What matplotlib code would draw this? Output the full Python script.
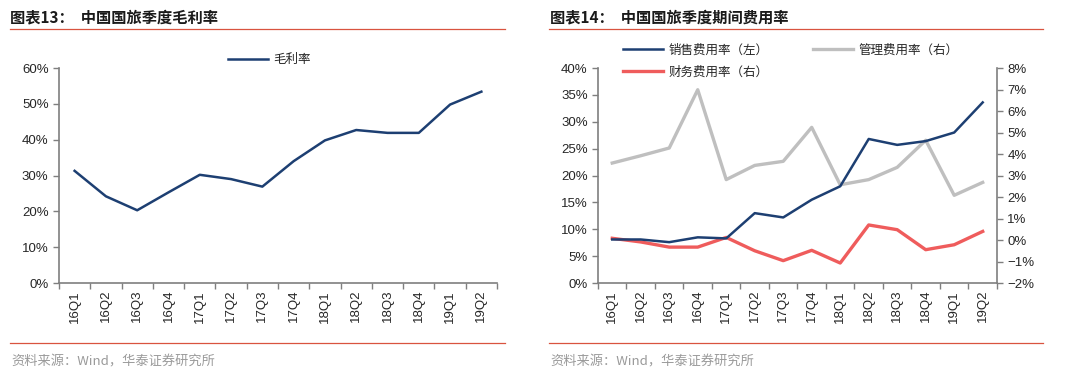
import matplotlib
matplotlib.use("Agg")
import matplotlib.pyplot as plt
from matplotlib.ticker import FixedLocator, PercentFormatter
from matplotlib.lines import Line2D
import numpy as np

plt.rcParams['font.family'] = ['Liberation Sans', 'Noto Sans CJK SC', 'DejaVu Sans']

quarters = ['16Q1', '16Q2', '16Q3', '16Q4', '17Q1', '17Q2', '17Q3', '17Q4',
            '18Q1', '18Q2', '18Q3', '18Q4', '19Q1', '19Q2']
gross_margin = [31.3, 24.2, 20.3, 25.3, 30.2, 29.0, 26.9, 34.0, 39.8, 42.7, 41.9, 41.9, 49.8, 53.4]
sales_rate = [8.1, 8.1, 7.6, 8.5, 8.3, 13.0, 12.2, 15.5, 18.0, 26.8, 25.7, 26.4, 28.0, 33.6]
admin_rate = [3.58, 3.92, 4.28, 6.99, 2.81, 3.47, 3.66, 5.24, 2.57, 2.81, 3.38, 4.64, 2.08, 2.68]
fin_rate = [0.08, -0.09, -0.33, -0.33, 0.12, -0.50, -0.96, -0.48, -1.07, 0.70, 0.48, -0.45, -0.22, 0.40]

NAVY = '#1d3f72'
GRAY = '#bfbfbf'
RED = '#ef5c5c'
AX = '#7f7f7f'
TXT = '#262626'
TITLE_FONT = ['Noto Sans CJK SC', 'DejaVu Sans']

fig = plt.figure(figsize=(10.8, 3.76), dpi=100)

def style_x(ax):
    n = len(quarters)
    x = np.arange(n)
    ax.set_xlim(-0.5, n - 0.5)
    ax.xaxis.set_major_locator(FixedLocator(np.arange(-0.5, n, 1.0)))
    ax.set_xticklabels([''] * (n + 1))
    ax.set_xticks(x, minor=True)
    ax.set_xticklabels(quarters, minor=True, rotation=90, fontsize=9.5, color=TXT)
    ax.tick_params(axis='x', which='major', length=4, width=1, color=AX, direction='out')
    ax.tick_params(axis='x', which='minor', length=0, pad=5)

def style_spines(ax):
    for s in ['top', 'right']:
        ax.spines[s].set_visible(False)
    ax.spines['left'].set_color(AX)
    ax.spines['bottom'].set_color(AX)
    ax.spines['left'].set_linewidth(1.2)
    ax.spines['bottom'].set_linewidth(1.2)
    ax.tick_params(axis='y', length=4, width=1, color=AX, labelsize=9.5, labelcolor=TXT)

# Left chart
ax1 = fig.add_axes([0.0546, 0.2473, 0.4056, 0.5718])
x = np.arange(len(quarters))
ax1.plot(x, gross_margin, color=NAVY, lw=1.8, label='毛利率')
ax1.set_ylim(0, 60)
ax1.set_yticks(range(0, 61, 10))
ax1.yaxis.set_major_formatter(PercentFormatter(decimals=0))
style_spines(ax1)
style_x(ax1)
leg = ax1.legend(loc='upper center', bbox_to_anchor=(0.48, 1.12), frameon=False,
                 prop={'family': TITLE_FONT, 'size': 9}, handlelength=3.2, handletextpad=0.4)
for t in leg.get_texts():
    t.set_color(TXT)

# Right chart
ax2 = fig.add_axes([0.5537, 0.2473, 0.3694, 0.5718])
ax3 = ax2.twinx()
ax2.plot(x, sales_rate, color=NAVY, lw=1.8, zorder=3)
ax3.plot(x, admin_rate, color=GRAY, lw=2.4, zorder=2)
ax3.plot(x, fin_rate, color=RED, lw=2.4, zorder=2)
ax2.set_zorder(ax3.get_zorder() + 1)
ax2.patch.set_visible(False)
ax2.set_ylim(0, 40)
ax2.set_yticks(range(0, 41, 5))
ax2.yaxis.set_major_formatter(PercentFormatter(decimals=0))
ax3.set_ylim(-2, 8)
ax3.set_yticks(range(-2, 9, 1))
ax3.yaxis.set_major_formatter(PercentFormatter(decimals=0))
style_spines(ax2)
style_x(ax2)
for s in ['top', 'left', 'bottom']:
    ax3.spines[s].set_visible(False)
ax3.spines['right'].set_color(AX)
ax3.spines['right'].set_linewidth(1.2)
ax3.tick_params(axis='y', length=4, width=1, color=AX, labelsize=9.5, labelcolor=TXT)

handles = [Line2D([], [], color=NAVY, lw=1.8),
           Line2D([], [], color=RED, lw=2.4),
           Line2D([], [], color=GRAY, lw=2.4)]
labels = ['销售费用率（左）', '财务费用率（右）', '管理费用率（右）']
leg2 = ax2.legend(handles, labels, loc='upper left', bbox_to_anchor=(0.035, 1.165), ncol=2,
                  frameon=False, prop={'family': TITLE_FONT, 'size': 9},
                  handlelength=3.2, handletextpad=0.4, columnspacing=3.6, labelspacing=0.7)
for t in leg2.get_texts():
    t.set_color(TXT)

# Titles, rules, sources
fig.text(10 / 1080, 1 - 17 / 376, '图表13：  中国国旅季度毛利率', fontsize=11, fontweight='bold',
         family=TITLE_FONT, va='center', ha='left', color='#1a1a1a')
fig.text(550 / 1080, 1 - 17 / 376, '图表14：  中国国旅季度期间费用率', fontsize=11, fontweight='bold',
         family=TITLE_FONT, va='center', ha='left', color='#1a1a1a')
for (x0, x1) in [(10, 505), (549, 1043)]:
    for yy in [29, 343]:
        fig.add_artist(Line2D([x0 / 1080, x1 / 1080], [1 - yy / 376, 1 - yy / 376],
                              color='#d9533f', lw=0.9))
fig.text(11 / 1080, 1 - 362 / 376, '资料来源：Wind，华泰证券研究所', fontsize=9.5,
         family=TITLE_FONT, va='center', ha='left', color='#9a9a9a')
fig.text(550 / 1080, 1 - 362 / 376, '资料来源：Wind，华泰证券研究所', fontsize=9.5,
         family=TITLE_FONT, va='center', ha='left', color='#9a9a9a')

fig.savefig('out.png', dpi=100)
